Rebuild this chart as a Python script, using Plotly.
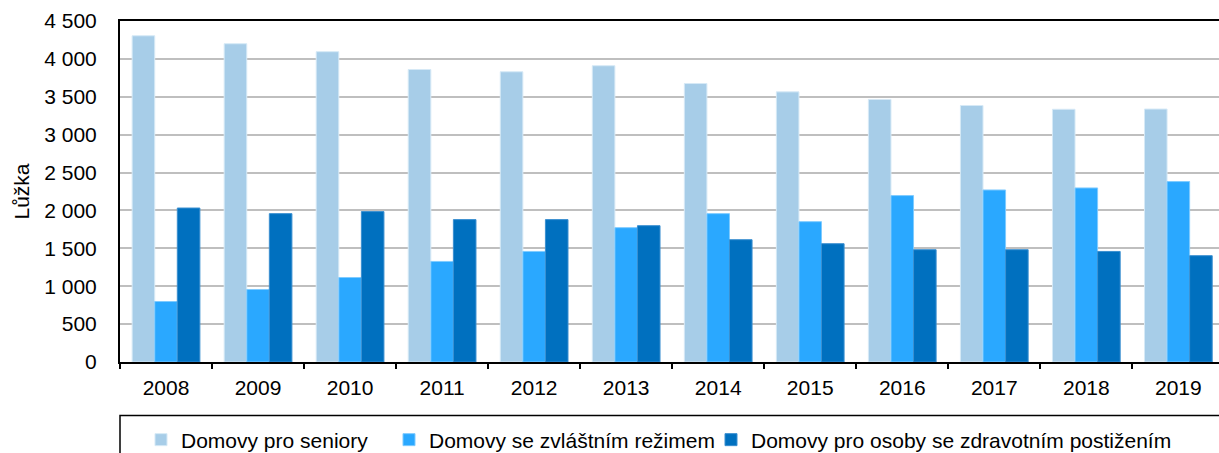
import plotly.graph_objects as go

# Bed capacity (lůžka) by type of residential social service facility
years = ["2008", "2009", "2010", "2011", "2012", "2013",
         "2014", "2015", "2016", "2017", "2018", "2019"]

seniors = [4305, 4200, 4095, 3860, 3830, 3910, 3675, 3565, 3465, 3385, 3335, 3338]
special_regime = [798, 957, 1115, 1327, 1459, 1773, 1958, 1852, 2196, 2270, 2297, 2381]
disabled = [2032, 1958, 1985, 1879, 1879, 1799, 1614, 1561, 1482, 1482, 1459, 1403]

series_names = [
    "Domovy pro seniory",
    "Domovy se zvláštním režimem",
    "Domovy pro osoby se zdravotním postižením",
]

y_tick_values = [0, 500, 1000, 1500, 2000, 2500, 3000, 3500, 4000, 4500]
y_tick_labels = ["0", "500", "1 000", "1 500", "2 000", "2 500",
                 "3 000", "3 500", "4 000", "4 500"]

FONT = "Liberation Sans, Arial, sans-serif"
W, H = 1219, 453
L, R, T, B = 120, 0, 21, 91
PLOT_W = W - L - R
PLOT_H = H - T - B

fill_colors = ["#A7CDE8", "#2AA8FF", "#0070BF"]
edge_colors = ["#D6E9F6", "#7FCBFF", "#3A8FD0"]
legend_ids = ["legend", "legend2", "legend3"]

fig = go.Figure()
for name, vals, fc, ec, lg in zip(series_names, [seniors, special_regime, disabled],
                                  fill_colors, edge_colors, legend_ids):
    fig.add_trace(go.Bar(
        x=years, y=vals, name=name, legend=lg,
        marker=dict(color=fc, line=dict(color=ec, width=1)),
    ))


def px_to_paper_x(px):
    return (px - L) / PLOT_W


def px_to_paper_y(py):
    return (H - B - py) / PLOT_H


# one legend per series so each entry sits where it should along the strip
legend_symbol_px = [141, 389, 711]
legend_common = dict(
    orientation="h", yanchor="middle", xanchor="left",
    y=px_to_paper_y(440), bgcolor="rgba(0,0,0,0)", borderwidth=0,
    font=dict(family=FONT, size=21, color="#000000"),
)
legend_layouts = {}
for lg, sx in zip(legend_ids, legend_symbol_px):
    legend_layouts[lg] = dict(legend_common, x=px_to_paper_x(sx))

# frame around the legend strip
fig.add_shape(
    type="rect", xref="paper", yref="paper",
    x0=0, x1=1.02, y0=px_to_paper_y(415.5), y1=px_to_paper_y(470),
    line=dict(color="#000000", width=1.5), fillcolor="rgba(0,0,0,0)",
)

fig.update_layout(
    width=W, height=H,
    margin=dict(l=L, r=R, t=T, b=B, pad=0, autoexpand=False),
    paper_bgcolor="white", plot_bgcolor="white",
    barmode="group", bargap=0.264, bargroupgap=0,
    font=dict(family=FONT, size=21, color="#000000"),
    showlegend=True,
    **legend_layouts,
    xaxis=dict(
        type="category", range=[-0.5, -0.5 + PLOT_W / 92.03],
        showline=True, linecolor="#000000", linewidth=2, mirror=True,
        ticks="outside", tickson="boundaries", ticklen=5, tickwidth=1.5,
        tickcolor="#000000", showgrid=False, zeroline=False,
        tickfont=dict(family=FONT, size=21, color="#000000"),
        ticklabelstandoff=6,
    ),
    yaxis=dict(
        range=[0, 4500], tickvals=y_tick_values, ticktext=y_tick_labels,
        showline=True, linecolor="#000000", linewidth=2, mirror=False,
        ticks="", showgrid=True, gridcolor="#BFBFBF", gridwidth=1.5,
        zeroline=False,
        tickfont=dict(family=FONT, size=21, color="#000000"),
        ticklabelstandoff=17,
        title=dict(text="Lůžka", standoff=9,
                   font=dict(family=FONT, size=21, color="#000000")),
    ),
)

fig.write_html("out.html")
